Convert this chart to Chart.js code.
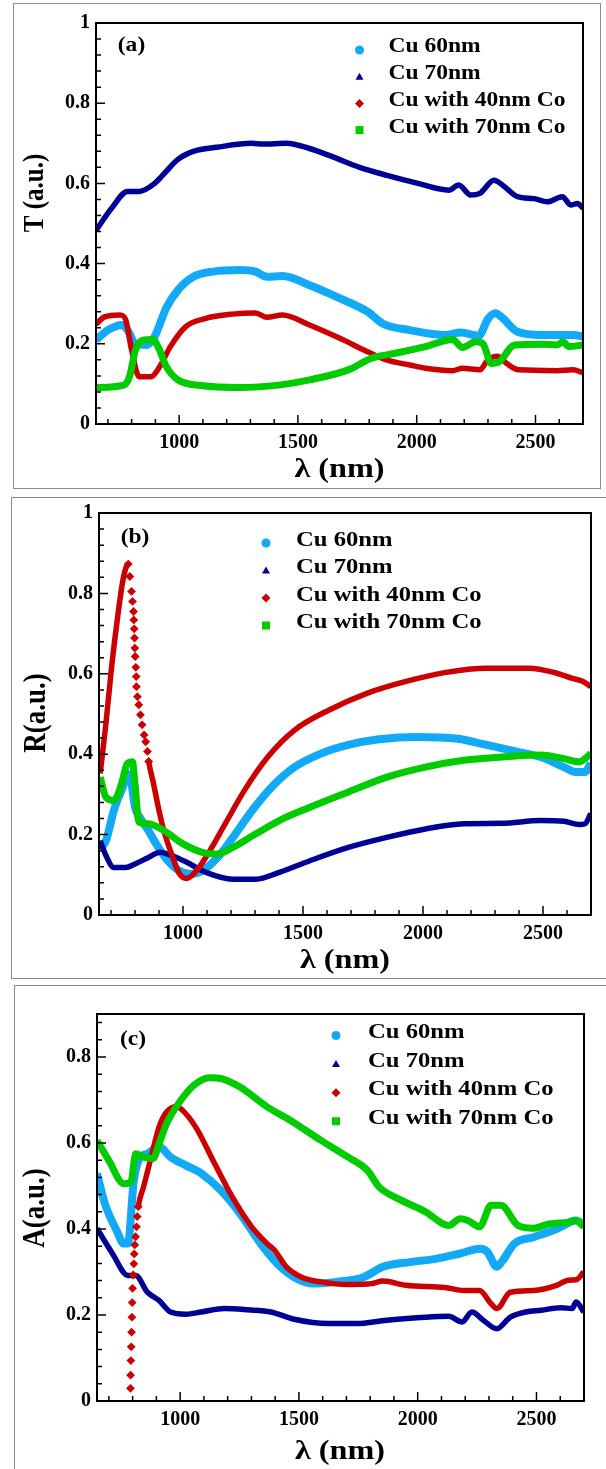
<!DOCTYPE html>
<html>
<head>
<meta charset="utf-8">
<script src="https://cdn.jsdelivr.net/npm/chart.js@4.4.1/dist/chart.umd.min.js"></script>
<style>
  html, body { margin: 0; padding: 0; background: #fff; }
  #page { position: relative; width: 606px; height: 1469px; overflow: hidden; }
  .frame { position: absolute; border: 1px solid #8c8c8c; }
  canvas { position: absolute; left: 0; }
</style>
</head>
<body>
<div id="page">
  <div class="frame" style="left:13px;top:3px;width:586px;height:484px"></div>
  <div class="frame" style="left:11px;top:497px;width:610px;height:480px"></div>
  <div class="frame" style="left:14px;top:985px;width:610px;height:500px"></div>
  <canvas id="chartT" width="606" height="490" style="top:0"></canvas>
  <canvas id="chartR" width="606" height="490" style="top:490px"></canvas>
  <canvas id="chartA" width="606" height="489" style="top:980px"></canvas>
</div>
<script>
// ---- data (wavelength in nm) ----
const seriesNames = ["Cu 60nm", "Cu 70nm", "Cu with 40nm Co", "Cu with 70nm Co"];
const xTickVals = [1000, 1500, 2000, 2500];
const yTickVals = [0, 0.2, 0.4, 0.6, 0.8, 1];

// (a) transmittance
const tWl60 = [650, 700, 759, 783, 816, 864, 897, 946, 995, 1060, 1142, 1256, 1321, 1370, 1435, 1549, 1663, 1793, 1858, 1972, 2119, 2184, 2261, 2300, 2332, 2360, 2424, 2526, 2657, 2700];
const tCu60 = [0.21, 0.234, 0.247, 0.234, 0.20, 0.197, 0.218, 0.29, 0.334, 0.367, 0.38, 0.384, 0.38, 0.367, 0.369, 0.346, 0.317, 0.28, 0.25, 0.234, 0.222, 0.228, 0.22, 0.262, 0.276, 0.265, 0.23, 0.222, 0.222, 0.218];
const tWl70 = [650, 718, 783, 832, 897, 930, 995, 1060, 1158, 1305, 1353, 1451, 1549, 1647, 1760, 1875, 2005, 2135, 2177, 2227, 2266, 2325, 2363, 2424, 2494, 2550, 2613, 2648, 2677, 2700];
const tCu70 = [0.483, 0.54, 0.58, 0.58, 0.60, 0.62, 0.66, 0.68, 0.69, 0.70, 0.698, 0.70, 0.687, 0.666, 0.64, 0.62, 0.60, 0.583, 0.596, 0.571, 0.575, 0.608, 0.595, 0.567, 0.562, 0.554, 0.567, 0.546, 0.55, 0.538];
const tWl40 = [650, 686, 751, 775, 800, 832, 881, 914, 963, 1028, 1109, 1223, 1321, 1370, 1435, 1549, 1679, 1793, 1875, 1972, 2037, 2151, 2192, 2266, 2298, 2339, 2379, 2428, 2591, 2657, 2700];
const tCo40 = [0.249, 0.267, 0.272, 0.26, 0.184, 0.118, 0.118, 0.139, 0.193, 0.243, 0.263, 0.274, 0.277, 0.266, 0.272, 0.247, 0.213, 0.18, 0.159, 0.147, 0.139, 0.133, 0.139, 0.135, 0.159, 0.169, 0.151, 0.135, 0.133, 0.135, 0.128];
const tWl70c = [650, 767, 791, 816, 848, 889, 914, 946, 995, 1093, 1256, 1419, 1549, 1712, 1810, 1907, 2037, 2151, 2192, 2249, 2279, 2314, 2347, 2412, 2526, 2591, 2616, 2640, 2700];
const tCo70 = [0.091, 0.097, 0.118, 0.184, 0.209, 0.211, 0.189, 0.143, 0.11, 0.096, 0.091, 0.097, 0.11, 0.135, 0.164, 0.176, 0.193, 0.211, 0.191, 0.205, 0.2, 0.151, 0.155, 0.197, 0.199, 0.197, 0.205, 0.193, 0.197];

// (b) reflectance
const rWl60 = [655, 679, 712, 744, 777, 800, 824, 856, 888, 936, 984, 1032, 1080, 1144, 1208, 1288, 1369, 1465, 1577, 1689, 1817, 1978, 2138, 2266, 2394, 2490, 2587, 2635, 2675, 2699];
const rCu60 = [0.164, 0.185, 0.26, 0.31, 0.35, 0.268, 0.239, 0.21, 0.177, 0.135, 0.11, 0.102, 0.11, 0.143, 0.193, 0.26, 0.318, 0.368, 0.402, 0.423, 0.437, 0.443, 0.439, 0.423, 0.406, 0.393, 0.368, 0.356, 0.356, 0.377];
const rWl70 = [655, 679, 712, 760, 800, 856, 904, 952, 1016, 1096, 1208, 1304, 1401, 1529, 1689, 1849, 2010, 2170, 2330, 2490, 2587, 2651, 2675, 2699];
const rCu70 = [0.185, 0.148, 0.118, 0.118, 0.127, 0.143, 0.156, 0.148, 0.131, 0.106, 0.089, 0.089, 0.106, 0.135, 0.168, 0.193, 0.214, 0.227, 0.228, 0.235, 0.233, 0.225, 0.227, 0.252];
const rWl40 = [655, 679, 703, 728, 752, 772, 778.5, 785.5, 789.6, 793.8, 795, 796.7, 798, 799.4, 800.8, 803.3, 805, 806, 810, 815.7, 822.6, 829.5, 837.9, 844.6, 851.9, 857, 876, 900, 920, 952, 984, 1016, 1056, 1112, 1176, 1256, 1353, 1465, 1609, 1769, 1929, 2090, 2266, 2442, 2554, 2619, 2667, 2699];
const rCo40 = [0.352, 0.477, 0.62, 0.743, 0.84, 0.873, 0.842, 0.805, 0.78, 0.755, 0.734, 0.712, 0.689, 0.664, 0.643, 0.616, 0.593, 0.568, 0.543, 0.523, 0.498, 0.473, 0.448, 0.431, 0.407, 0.382, 0.33, 0.26, 0.21, 0.152, 0.104, 0.091, 0.11, 0.16, 0.227, 0.31, 0.393, 0.46, 0.51, 0.552, 0.581, 0.603, 0.614, 0.614, 0.602, 0.589, 0.581, 0.568];
const rWl70c = [655, 679, 712, 744, 768, 789, 800, 816, 856, 920, 1000, 1080, 1144, 1208, 1304, 1401, 1529, 1689, 1849, 2010, 2170, 2330, 2490, 2587, 2651, 2675, 2699];
const rCo70 = [0.343, 0.293, 0.285, 0.327, 0.377, 0.381, 0.327, 0.231, 0.227, 0.21, 0.177, 0.156, 0.152, 0.168, 0.202, 0.235, 0.268, 0.306, 0.343, 0.368, 0.385, 0.393, 0.398, 0.389, 0.381, 0.389, 0.402];

// (c) absorbance
const aWl60 = [650, 683, 732, 763, 780, 805, 829, 862, 911, 960, 1024, 1089, 1171, 1252, 1350, 1415, 1480, 1561, 1659, 1772, 1854, 1967, 2081, 2179, 2260, 2293, 2333, 2358, 2407, 2488, 2585, 2667, 2699];
const aCu60 = [0.529, 0.459, 0.397, 0.366, 0.366, 0.513, 0.564, 0.575, 0.591, 0.567, 0.548, 0.529, 0.49, 0.436, 0.358, 0.316, 0.288, 0.273, 0.277, 0.288, 0.312, 0.323, 0.331, 0.343, 0.354, 0.347, 0.312, 0.327, 0.366, 0.381, 0.4, 0.42, 0.409];
const aWl70 = [650, 715, 780, 813, 862, 911, 960, 1024, 1089, 1187, 1285, 1382, 1480, 1626, 1740, 1870, 2033, 2130, 2187, 2228, 2276, 2333, 2390, 2455, 2520, 2602, 2650, 2667, 2699];
const aCu70 = [0.401, 0.343, 0.292, 0.292, 0.253, 0.234, 0.207, 0.202, 0.207, 0.215, 0.212, 0.207, 0.19, 0.18, 0.18, 0.188, 0.195, 0.197, 0.184, 0.207, 0.188, 0.168, 0.195, 0.207, 0.211, 0.217, 0.215, 0.23, 0.207];
const aWl40 = [790.8, 791.3, 792.6, 794, 795.5, 796.9, 798.3, 799.7, 802.6, 805, 806.7, 809, 812.3, 816.5, 819.4, 823.6, 846, 878, 911, 943, 984, 1024, 1073, 1138, 1220, 1301, 1366, 1398, 1447, 1512, 1593, 1707, 1805, 1854, 1951, 2114, 2195, 2260, 2309, 2333, 2390, 2488, 2585, 2634, 2667, 2699];
const aCo40 = [0.0295, 0.06, 0.094, 0.126, 0.16, 0.195, 0.229, 0.262, 0.293, 0.319, 0.342, 0.363, 0.382, 0.405, 0.429, 0.452, 0.498, 0.567, 0.637, 0.672, 0.685, 0.668, 0.63, 0.56, 0.474, 0.405, 0.366, 0.35, 0.312, 0.288, 0.277, 0.271, 0.273, 0.279, 0.269, 0.264, 0.257, 0.257, 0.226, 0.215, 0.253, 0.257, 0.269, 0.281, 0.282, 0.3];
const aWl70c = [650, 699, 764, 793, 813, 846, 886, 911, 943, 992, 1057, 1122, 1171, 1252, 1366, 1463, 1593, 1707, 1789, 1837, 1919, 2033, 2130, 2179, 2211, 2260, 2309, 2350, 2423, 2488, 2553, 2634, 2667, 2699];
const aCo70 = [0.606, 0.56, 0.505, 0.509, 0.575, 0.567, 0.564, 0.598, 0.645, 0.691, 0.734, 0.752, 0.75, 0.73, 0.684, 0.653, 0.606, 0.567, 0.536, 0.498, 0.47, 0.44, 0.408, 0.424, 0.42, 0.405, 0.455, 0.455, 0.408, 0.402, 0.412, 0.416, 0.42, 0.405];

const SERIF = '"Liberation Serif", "Times New Roman", serif';
const colors = ["#12a9f6", "#000096", "#cc0000", "#00cc00"];
const markers = ["circle", "triangle", "diamond", "square"];
const widths = [8, 5.5, 5.5, 7];

Chart.defaults.font.family = SERIF;
Chart.defaults.color = "#000";

function pts(xs, ys) {
  return xs.map((x, i) => ({ x: x, y: ys[i] }));
}

// neighbouring readings that are close in wavelength but far apart in value:
// the original symbols show up as separate dots there
function steep(p0, p1) {
  return !!p0 && !!p1 && Math.abs(p1.x - p0.x) < 10 && Math.abs(p1.y - p0.y) > 0.012;
}

// draw text stretched horizontally like the original bitmap
function wideText(ctx, text, x, y, sx, align) {
  ctx.save();
  ctx.translate(x, y);
  ctx.scale(sx, 1);
  ctx.textAlign = align || "left";
  ctx.fillText(text, 0, 0);
  ctx.restore();
}

function drawMarker(ctx, kind, x, y, color) {
  ctx.fillStyle = color;
  ctx.beginPath();
  if (kind === "circle") ctx.arc(x, y, 4.5, 0, Math.PI * 2);
  else if (kind === "triangle") { ctx.moveTo(x, y - 4); ctx.lineTo(x + 4, y + 3); ctx.lineTo(x - 4, y + 3); }
  else if (kind === "diamond") { ctx.moveTo(x, y - 4.5); ctx.lineTo(x + 4.5, y); ctx.lineTo(x, y + 4.5); ctx.lineTo(x - 4.5, y); }
  else ctx.rect(x - 4, y - 4, 8, 8);
  ctx.closePath();
  ctx.fill();
}

const panelDeco = {
  id: "panelDeco",
  afterDraw(chart, args, o) {
    const ctx = chart.ctx, a = chart.chartArea;
    const xs = chart.scales.x, ys = chart.scales.y;
    ctx.save();
    ctx.strokeStyle = "#000";
    ctx.lineWidth = 1.5;
    ctx.beginPath();
    // inward ticks, minor every 100 nm / 0.04
    for (let v = 700; v < 2700; v += 100) {
      const px = xs.getPixelForValue(v);
      const len = v % 500 === 0 ? 9 : 5;
      ctx.moveTo(px, a.bottom);
      ctx.lineTo(px, a.bottom - len);
    }
    for (let k = 1; k * 0.04 < ys.max - 1e-6; k++) {
      const py = ys.getPixelForValue(k * 0.04);
      const len = k % 5 === 0 ? 9 : 5;
      ctx.moveTo(a.left, py);
      ctx.lineTo(a.left + len, py);
    }
    ctx.stroke();
    ctx.lineWidth = 2;
    ctx.strokeRect(a.left, a.top, a.right - a.left, a.bottom - a.top);

    ctx.fillStyle = "#000";
    ctx.textBaseline = "middle";
    // axis titles
    ctx.font = "bold 28px " + SERIF;
    wideText(ctx, "\u03bb (nm)", o.xTitle[0], o.xTitle[1], 1.15, "center");
    ctx.save();
    ctx.translate(o.yTitle[0], o.yTitle[1]);
    ctx.rotate(-Math.PI / 2);
    ctx.scale(1, 1.15);
    ctx.font = "bold " + o.yTitleSize + "px " + SERIF;
    ctx.textAlign = "center";
    ctx.fillText(o.yTitleText, 0, 0);
    ctx.restore();
    // panel letter
    ctx.font = "bold 21px " + SERIF;
    wideText(ctx, o.letter, o.letterPos[0], o.letterPos[1], 1.12, "center");
    // legend
    chart.data.datasets.forEach((ds, i) => {
      const y = o.legend.y + i * o.legend.gap;
      drawMarker(ctx, markers[i], o.legend.mx, y + 3, colors[i]);
      ctx.fillStyle = "#000";
      ctx.font = "bold " + o.legend.size + "px " + SERIF;
      wideText(ctx, ds.label, o.legend.tx, y, 1.12, "left");
    });
    ctx.restore();
  }
};

function makeChart(id, series, yMax, pad, yWidth, xHeight, deco) {
  const datasets = series.map((s, i) => ({
    label: seriesNames[i],
    data: pts(s[0], s[1]),
    borderColor: colors[i],
    backgroundColor: colors[i],
    borderWidth: widths[i],
    pointStyle: "rectRot",
    pointBorderWidth: 0,
    pointRadius: c => {
      if (i !== 2) return 0;
      const d = c.dataset.data, k = c.dataIndex;
      return steep(d[k - 1], d[k]) || steep(d[k], d[k + 1]) ? 4.4 : 0;
    },
    cubicInterpolationMode: "monotone",
    order: [3, 2, 1, 0][i],
    segment: {
      borderColor: c => {
        const d = c.chart.data.datasets[c.datasetIndex].data;
        return steep(d[c.p0DataIndex], d[c.p1DataIndex]) ? "rgba(0,0,0,0)" : undefined;
      }
    }
  }));
  return new Chart(document.getElementById(id), {
    type: "line",
    data: { datasets: datasets },
    options: {
      responsive: false,
      animation: false,
      events: [],
      layout: { padding: pad },
      plugins: { legend: { display: false }, tooltip: { enabled: false }, panelDeco: deco },
      scales: {
        x: {
          type: "linear", min: 650, max: 2700,
          afterBuildTicks: s => { s.ticks = xTickVals.map(v => ({ value: v })); },
          afterFit: s => { s.height = xHeight; },
          grid: { display: false, drawTicks: false },
          border: { display: false },
          ticks: { padding: 7, autoSkip: false, maxRotation: 0, font: { size: 20, weight: "bold" }, callback: v => String(v) }
        },
        y: {
          min: 0, max: yMax,
          afterBuildTicks: s => { s.ticks = yTickVals.filter(v => v <= yMax).map(v => ({ value: v })); },
          afterFit: s => { s.width = yWidth; },
          grid: { display: false, drawTicks: false },
          border: { display: false },
          ticks: { padding: 6, font: { size: 20, weight: "bold" }, callback: v => String(v) }
        }
      }
    },
    plugins: [panelDeco]
  });
}

makeChart("chartT",
  [[tWl60, tCu60], [tWl70, tCu70], [tWl40, tCo40], [tWl70c, tCo70]],
  1, { left: 0, right: 23, top: 23, bottom: 0 }, 96, 66,
  { xTitle: [339.5, 470], yTitle: [36, 193], yTitleText: "T (a.u.)", yTitleSize: 25,
    letter: "(a)", letterPos: [131.5, 46],
    legend: { mx: 359.5, tx: 388.5, y: 47, gap: 26.7, size: 21 } });

makeChart("chartR",
  [[rWl60, rCu60], [rWl70, rCu70], [rWl40, rCo40], [rWl70c, rCo70]],
  1, { left: 0, right: 15, top: 23, bottom: 0 }, 99, 65,
  { xTitle: [345, 471], yTitle: [37, 223], yTitleText: "R(a.u.)", yTitleSize: 27,
    letter: "(b)", letterPos: [135, 47.5],
    legend: { mx: 266, tx: 296, y: 50, gap: 27.5, size: 22 } });

makeChart("chartA",
  [[aWl60, aCu60], [aWl70, aCu70], [aWl40, aCo40], [aWl70c, aCo70]],
  0.9, { left: 0, right: 22, top: 34, bottom: 0 }, 97, 68,
  { xTitle: [340, 472], yTitle: [36, 228], yTitleText: "A(a.u.)", yTitleSize: 27,
    letter: "(c)", letterPos: [133, 60],
    legend: { mx: 336, tx: 368, y: 52.5, gap: 28.6, size: 22 } });
</script>
</body>
</html>
